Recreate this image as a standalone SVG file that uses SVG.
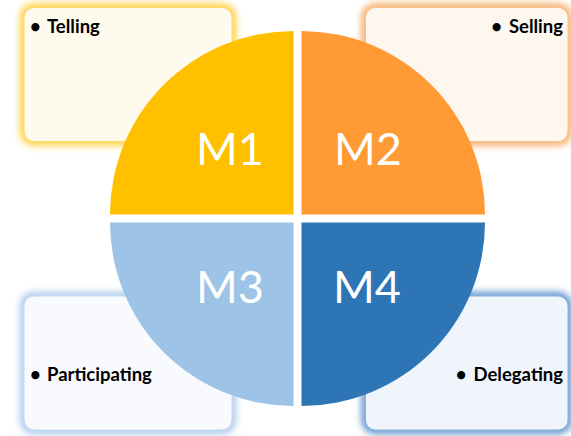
<svg xmlns="http://www.w3.org/2000/svg" width="571" height="436" viewBox="0 0 571 436">
<defs>
<filter id="glow" x="-20%" y="-20%" width="140%" height="140%"><feGaussianBlur stdDeviation="3.5"/></filter>
</defs>
<style>
.lbl{font-family:Lato,"Liberation Sans",sans-serif;font-weight:700;font-size:18.5px;fill:#000}
.m{font-family:Lato,"Liberation Sans",sans-serif;font-weight:400;font-size:45px;fill:#fff}
.halo{fill:none;stroke-width:8;filter:url(#glow)}
</style>
<rect width="571" height="436" fill="#fff"/>
<g id="box-telling">
<rect class="halo" x="24" y="7.5" width="208" height="134" rx="10" stroke="#FFCF3A"/>
<rect x="24" y="7.5" width="208" height="134" rx="10" fill="#FFFAEE" stroke="#FFD966" stroke-width="1"/>
<text class="lbl" x="30" y="33">•<tspan x="47">Telling</tspan></text>
</g>
<g id="box-selling">
<rect class="halo" x="365.5" y="7.5" width="202.5" height="134" rx="10" stroke="#F5AA62"/>
<rect x="365.5" y="7.5" width="202.5" height="134" rx="10" fill="#FEF7F0" stroke="#F8C08A" stroke-width="1"/>
<text class="lbl" x="563" y="33" text-anchor="end">•<tspan dx="7">Selling</tspan></text>
</g>
<g id="box-participating">
<rect class="halo" x="24" y="296" width="208" height="134" rx="10" stroke="#A9C8EA"/>
<rect x="24" y="296" width="208" height="134" rx="10" fill="#F8FAFD" stroke="#C5DAF0" stroke-width="1"/>
<text class="lbl" x="30" y="381">•<tspan x="47">Participating</tspan></text>
</g>
<g id="box-delegating">
<rect class="halo" x="365.5" y="296" width="202.5" height="134" rx="10" stroke="#5B91CB"/>
<rect x="365.5" y="296" width="202.5" height="134" rx="10" fill="#F0F5FB" stroke="#8BB2DB" stroke-width="1"/>
<text class="lbl" x="563" y="381" text-anchor="end">•<tspan dx="7">Delegating</tspan></text>
</g>
<g id="m1">
<path d="M293.5,214.5 L110,214.5 A183.5,183.5 0 0 1 293.5,31 Z" fill="#FFC000"/>
<text class="m" x="196" y="165">M1</text>
</g>
<g id="m2">
<path d="M301.5,214.5 L301.5,31 A183.5,183.5 0 0 1 485,214.5 Z" fill="#FF9A35"/>
<text class="m" x="334" y="165">M2</text>
</g>
<g id="m3">
<path d="M293.5,222.5 L293.5,406 A183.5,183.5 0 0 1 110,222.5 Z" fill="#9DC3E6"/>
<text class="m" x="196" y="303">M3</text>
</g>
<g id="m4">
<path d="M301.5,222.5 L485,222.5 A183.5,183.5 0 0 1 301.5,406 Z" fill="#2E75B6"/>
<text class="m" x="333" y="303">M4</text>
</g>
<g id="connectors"></g>
</svg>
